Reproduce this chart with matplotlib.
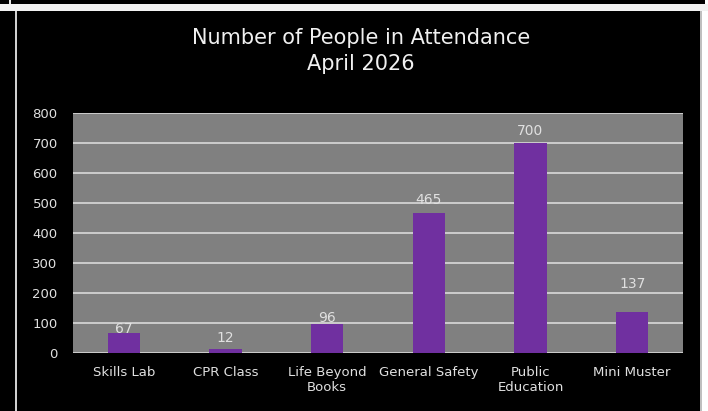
import matplotlib
matplotlib.use("Agg")
import matplotlib.pyplot as plt
from matplotlib.patches import Rectangle

# attendance figures
categories = ["Skills Lab", "CPR Class", "Life Beyond\nBooks", "General Safety",
              "Public\nEducation", "Mini Muster"]
attendance = [67, 12, 96, 465, 700, 137]
y_ticks = [0, 100, 200, 300, 400, 500, 600, 700, 800]

# gap (px) between bar top and its label
label_gap = [0, 7, 2, 10, 8, 24]

W, H = 708, 411
plt.rcParams['font.family'] = ['DejaVu Sans']
fig = plt.figure(figsize=(W / 100, H / 100), dpi=100, facecolor="black")


def px_rect(x0, y0, x1, y1, color):
    # rectangle given in pixel coords measured from the top-left corner
    fig.patches.append(Rectangle((x0 / W, 1 - y1 / H), (x1 - x0) / W, (y1 - y0) / H,
                                 transform=fig.transFigure, facecolor=color,
                                 edgecolor="none", zorder=0))


# screen frame around the chart panel
px_rect(0, 4, W, 11, "#f2f2f2")
px_rect(9, 0, 11, 4, "#e6e6e6")
px_rect(15, 11, 17, H, "#d0d0d0")
px_rect(700, 11, 702, H, "#bfbfbf")
px_rect(702, 11, W, H, "#ffffff")
px_rect(705, 0, W, 4, "#ffffff")

ax = fig.add_axes([73 / W, 58 / H, 610 / W, 240 / H])
ax.set_facecolor("#808080")
x = range(len(categories))
bars = ax.bar(x, attendance, width=0.315, color="#7030A0", zorder=3)

ax.set_ylim(0, 800)
ax.set_xlim(-0.5, len(categories) - 0.5)
ax.set_yticks(y_ticks)
ax.yaxis.grid(True, color="#d9d9d9", linewidth=1.2, zorder=1)
ax.set_axisbelow(True)
for s in ax.spines.values():
    s.set_visible(False)
ax.tick_params(axis="y", length=0, pad=11, labelsize=9.5, labelcolor="#e0e0e0")
ax.tick_params(axis="x", length=0, pad=9.5, labelsize=9.5, labelcolor="#e0e0e0")
ax.set_xticks(list(x))
ax.set_xticklabels(categories, linespacing=1.15)

for bar, v, g in zip(bars, attendance, label_gap):
    ax.annotate(str(v), (bar.get_x() + bar.get_width() / 2, v),
                xytext=(0, g * 0.72), textcoords="offset points",
                ha="center", va="baseline", fontsize=10, color="#e0e0e0")

fig.text(361 / W, 1 - 44 / H, "Number of People in Attendance", ha="center",
         va="baseline", fontsize=15, color="#f0f0f0")
fig.text(361 / W, 1 - 70 / H, "April 2026", ha="center",
         va="baseline", fontsize=15, color="#f0f0f0")

fig.savefig("out.png", dpi=100, facecolor="black")
